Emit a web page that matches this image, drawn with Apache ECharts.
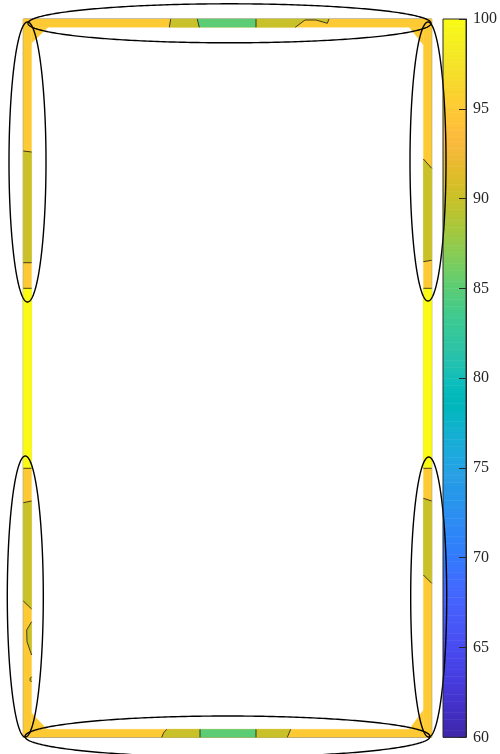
<!DOCTYPE html>
<html>
<head>
<meta charset="utf-8">
<script src="https://cdn.jsdelivr.net/npm/echarts@6/dist/echarts.min.js"></script>
<style>
html,body{margin:0;padding:0;background:#fff;}
#chart{width:500px;height:754px;}
</style>
</head>
<body>
<div id="chart"></div>
<script>
// ---- Data (geometry units, y measured downward from the top edge of the frame) ----
const frameWidth = 408.4;
const frameHeight = 718.3;

// Filled contour regions: level value of each region and its outline
const regionValues = [95, 95, 95, 95, 95, 95, 95, 95,
  90, 85, 90,
  90, 85, 90,
  90, 100, 90, 90, 90,
  90, 100, 90];
const regionPolys = [
  [[0,0],[408.4,0],[408.4,8.3],[0,8.3]],
  [[0,710.3],[408.4,710.3],[408.4,718.3],[0,718.3]],
  [[0,0],[8.3,0],[8.3,718.3],[0,718.3]],
  [[400.1,0],[408.4,0],[408.4,718.3],[400.1,718.3]],
  [[8.3,8.3],[24.7,8.3],[8.3,24]],
  [[400.1,8.3],[386,8.3],[400.1,26]],
  [[8.3,694],[8.3,710.3],[23.7,710.3]],
  [[386,710.3],[400.1,710.3],[400.1,691]],
  // top band
  [[147.4,0],[174,0],[176,8.3],[146,8.3]],
  [[174,0],[232.7,0],[232.7,8.3],[176,8.3]],
  [[232.7,0],[305.7,0],[304,4.3],[292.7,1],[281.7,1],[272,8.3],[232.7,8.3]],
  // bottom band
  [[143.4,710.3],[176.7,710.3],[176.7,718.3],[138.4,718.3],[140.5,713.5]],
  [[176.7,710.3],[232.7,710.3],[232.7,718.3],[176.7,718.3]],
  [[232.7,710.3],[267.4,710.3],[264,718.3],[232.7,718.3]],
  // left band
  [[0,132],[8.3,133],[8.3,243.7],[0,243.7]],
  [[0,269.3],[8.3,269.3],[8.3,449.3],[0,449.3]],
  [[0,483.7],[8.3,482],[8.3,590],[0,582]],
  [[8.3,602.7],[3.4,611],[3.7,622.7],[8.3,636]],
  [[8.3,657.7],[6.9,659.3],[6.8,661.5],[8.3,663]],
  // right band
  [[400.1,140],[408.4,149.3],[408.4,241.3],[400.1,242.7]],
  [[400.1,269.3],[408.4,269.3],[408.4,449.3],[400.1,449.3]],
  [[400.1,479.3],[408.4,482],[408.4,564.3],[400.1,556]]
];

// Contour lines between levels
const contourLines = [
  [[147.4,0],[146,8.3]],
  [[174,0],[176,8.3]],
  [[232.7,0],[232.7,8.3]],
  [[305.7,0],[304,4.3],[292.7,1],[281.7,1],[272,8.3]],
  [[143.4,710.3],[140.5,713.5],[138.4,718.3]],
  [[176.7,710.3],[176.7,718.3]],
  [[232.7,710.3],[232.7,718.3]],
  [[267.4,710.3],[264,718.3]],
  [[0,132],[8.3,133]],
  [[0,243.7],[8.3,243.7]],
  [[0,269.3],[8.3,269.3]],
  [[0,449.3],[8.3,449.3]],
  [[0,483.7],[8.3,482]],
  [[0,582],[8.3,590]],
  [[8.3,602.7],[3.4,611],[3.7,622.7],[8.3,636]],
  [[8.3,657.7],[6.9,659.3],[6.8,661.5],[8.3,663]],
  [[400.1,140],[408.4,149.3]],
  [[400.1,242.7],[408.4,241.3]],
  [[400.1,269.3],[408.4,269.3]],
  [[400.1,449.3],[408.4,449.3]],
  [[400.1,479.3],[408.4,482]],
  [[400.1,556],[408.4,564.3]]
];

// Highlight ellipses
const ellipseCX = [206.2, 204.2, 4.2, 404.7, 2.0, 405.4];
const ellipseCY = [4.3, 717.5, 143.0, 142.5, 577.5, 578.0];
const ellipseRX = [201.5, 202.5, 18.5, 18.0, 18.0, 18.0];
const ellipseRY = [19.5, 20.5, 140.0, 139.5, 140.5, 140.0];

// Colour bar
const colorbarMin = 60;
const colorbarMax = 100;
const colorbarTicks = [60, 65, 70, 75, 80, 85, 90, 95, 100];

const parula = ['#3e26a8','#402ab4','#422ec0','#4332cb','#4537d5','#463bde','#4741e5','#4747eb','#484cf0','#4852f4','#4758f8','#465efb','#4563fd','#4269fe','#3e6fff','#3875fe','#327cfc','#2f81f9','#2d87f7','#2d8cf3','#2b91ef','#2797eb','#2597e8','#2ba0e4','#20a5e2','#1caadd','#18add6','#12b1ce','#08b4c5','#01b7bb','#02baba','#0bbdbc','#19bfb5','#24c1ae','#2cc3a7','#31c69f','#37c897','#3fca8e','#4acb84','#57cc79','#63cd6f','#71cd64','#80cc59','#8fcb4e','#9dc943','#abc739','#b9c431','#c5c22a','#d1bf27','#dcbd29','#e6bb2d','#efba36','#f8ba3d','#fdbd3c','#fec337','#fec934','#fccf30','#f9d52d','#f6dc2a','#f5e327','#f4e924','#f5ef20','#f7f51b','#f9fb14'];

const chart = echarts.init(document.getElementById('chart'), null, {renderer: 'canvas'});

const colorbarStep = (colorbarMax - colorbarMin) / 200;
const colorbarBins = [];
for (let k = 0; k < 200; k++) {
  const lo = colorbarMin + k * colorbarStep;
  colorbarBins.push([0, lo + colorbarStep / 2, lo, lo + colorbarStep]);
}

const option = {
  animation: false,
  backgroundColor: '#ffffff',
  grid: [
    {left: 23.3, top: 19, width: 408.4, height: 718.3, show: true, borderColor: '#7a7a7a', borderWidth: 1, backgroundColor: 'transparent'},
    {left: 443, top: 19, width: 24, height: 718.3, show: true, borderColor: '#2b2b2b', borderWidth: 1, backgroundColor: 'transparent', z: 6}
  ],
  xAxis: [
    {type: 'value', gridIndex: 0, min: 0, max: frameWidth, show: false},
    {type: 'value', gridIndex: 1, min: 0, max: 1, show: false}
  ],
  yAxis: [
    {type: 'value', gridIndex: 0, min: 0, max: frameHeight, inverse: true, show: false},
    {type: 'value', gridIndex: 1, min: colorbarMin, max: colorbarMax, interval: 5, position: 'right', z: 6,
      axisLine: {show: true, onZero: false, lineStyle: {color: '#262626', width: 1}},
      axisTick: {show: true, inside: true, length: 7, lineStyle: {color: '#262626', width: 1}},
      splitLine: {show: false},
      axisLabel: {show: true, margin: 7, color: '#262626', fontFamily: 'Liberation Serif, Times New Roman, serif', fontSize: 16,
        formatter: function (v) { return colorbarTicks.indexOf(v) >= 0 ? String(v) : ''; }}
    }
  ],
  visualMap: {
    show: false, type: 'continuous', min: colorbarMin, max: colorbarMax, dimension: 1,
    seriesIndex: [0, 3], inRange: {color: parula}
  },
  series: [
    {
      type: 'custom', xAxisIndex: 0, yAxisIndex: 0, z: 2,
      data: regionValues.map(function (v, i) { return [i, v]; }),
      renderItem: function (params, api) {
        const i = api.value(0);
        const pts = regionPolys[i].map(function (p) { return api.coord(p); });
        return {type: 'polygon', shape: {points: pts}, style: {fill: api.visual('color'), stroke: api.visual('color'), lineWidth: 0.3}};
      }
    },
    {
      type: 'custom', xAxisIndex: 0, yAxisIndex: 0, z: 3,
      data: contourLines.map(function (c, i) { return [i]; }),
      renderItem: function (params, api) {
        const i = api.value(0);
        const pts = contourLines[i].map(function (p) { return api.coord(p); });
        return {type: 'polyline', shape: {points: pts}, style: {fill: null, stroke: '#1a1a1a', lineWidth: 0.8}};
      }
    },
    {
      type: 'custom', xAxisIndex: 0, yAxisIndex: 0, z: 4,
      data: ellipseCX.map(function (c, i) { return [i]; }),
      renderItem: function (params, api) {
        const i = api.value(0);
        const pts = [];
        for (let k = 0; k <= 360; k++) {
          const t = k * Math.PI / 180;
          pts.push(api.coord([ellipseCX[i] + ellipseRX[i] * Math.cos(t), ellipseCY[i] + ellipseRY[i] * Math.sin(t)]));
        }
        return {type: 'polyline', shape: {points: pts}, style: {fill: null, stroke: '#000000', lineWidth: 1.4}};
      }
    },
    {
      type: 'custom', xAxisIndex: 1, yAxisIndex: 1, z: 1,
      data: colorbarBins,
      renderItem: function (params, api) {
        const p1 = api.coord([0, api.value(3)]);
        const p2 = api.coord([1, api.value(2)]);
        return {type: 'rect', shape: {x: p1[0], y: p1[1], width: p2[0] - p1[0], height: p2[1] - p1[1] + 0.5},
          style: {fill: api.visual('color')}};
      }
    }
  ]
};
chart.setOption(option);
</script>
</body>
</html>
